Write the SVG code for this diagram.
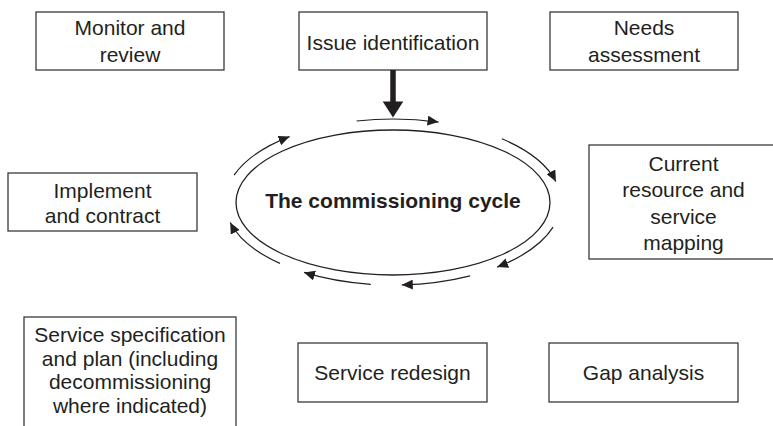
<svg xmlns="http://www.w3.org/2000/svg" width="773" height="426" viewBox="0 0 773 426">
  <style>
    .box { fill: #ffffff; stroke: #3a3a3a; stroke-width: 1.3; }
    .lbl { font-family: "Liberation Sans", Arial, sans-serif; font-size: 21px; fill: #231f20; text-anchor: middle; }
    .title { font-weight: bold; }
    .arc { fill: none; stroke: #231f20; stroke-width: 1.2; marker-end: url(#ah); }
  </style>
  <defs>
    <marker id="ah" viewBox="0 0 11 10" refX="11" refY="5" markerWidth="11" markerHeight="10" markerUnits="userSpaceOnUse" orient="auto">
      <path d="M0,0 L11,5 L0,10 z" fill="#231f20"/>
    </marker>
  </defs>
  <rect width="773" height="426" fill="#ffffff"/>

  <g id="monitor">
    <rect class="box" x="36" y="12" width="188" height="58"/>
    <text class="lbl" x="130" y="35">Monitor and</text>
    <text class="lbl" x="130" y="62">review</text>
  </g>
  <g id="issue">
    <rect class="box" x="299" y="12" width="188" height="58"/>
    <text class="lbl" x="393" y="50">Issue identification</text>
  </g>
  <g id="needs">
    <rect class="box" x="550" y="12" width="188" height="58"/>
    <text class="lbl" x="644" y="35">Needs</text>
    <text class="lbl" x="644" y="62">assessment</text>
  </g>
  <g id="current">
    <rect class="box" x="589" y="145" width="190" height="114"/>
    <text class="lbl" x="683.5" y="170.5">Current</text>
    <text class="lbl" x="683.5" y="197">resource and</text>
    <text class="lbl" x="683.5" y="223.5">service</text>
    <text class="lbl" x="683.5" y="250">mapping</text>
  </g>
  <g id="implement">
    <rect class="box" x="8" y="173" width="189" height="58"/>
    <text class="lbl" x="102.5" y="197.5">Implement</text>
    <text class="lbl" x="102.5" y="222.5">and contract</text>
  </g>
  <g id="spec">
    <rect class="box" x="24" y="317" width="212" height="130"/>
    <text class="lbl" x="130" y="342">Service specification</text>
    <text class="lbl" x="130" y="365.5">and plan (including</text>
    <text class="lbl" x="130" y="389">decommissioning</text>
    <text class="lbl" x="130" y="412.5">where indicated)</text>
  </g>
  <g id="redesign">
    <rect class="box" x="298" y="343" width="189" height="59"/>
    <text class="lbl" x="392.5" y="380">Service redesign</text>
  </g>
  <g id="gap">
    <rect class="box" x="549" y="343" width="189" height="59"/>
    <text class="lbl" x="643.5" y="380">Gap analysis</text>
  </g>
  <g id="cycle">
    <ellipse cx="393" cy="202.5" rx="157" ry="72.5" fill="#ffffff" stroke="#231f20" stroke-width="1.3"/>
    <text class="lbl title" x="393" y="207.5">The commissioning cycle</text>
  </g>

  <g id="connectors">
    <line x1="393" y1="70" x2="393" y2="102" stroke="#231f20" stroke-width="5.5"/>
    <polygon points="382.7,101.5 403.3,101.5 393,117.5" fill="#231f20"/>
    <path class="arc" d="M356.6,121.0 A168,83 0 0 1 438.5,122.1"/>
    <path class="arc" d="M501.9,138.8 A168,83 0 0 1 555.9,181.6"/>
    <path class="arc" d="M553.1,227.2 A168,83 0 0 1 497.1,267.1"/>
    <path class="arc" d="M470.1,275.8 A168,83 0 0 1 401.8,284.9"/>
    <path class="arc" d="M370.8,284.3 A168,83 0 0 1 304.0,272.4"/>
    <path class="arc" d="M279.9,263.4 A168,83 0 0 1 230.2,222.5"/>
    <path class="arc" d="M234.1,175.1 A168,83 0 0 1 289.6,136.6"/>
  </g>
</svg>
